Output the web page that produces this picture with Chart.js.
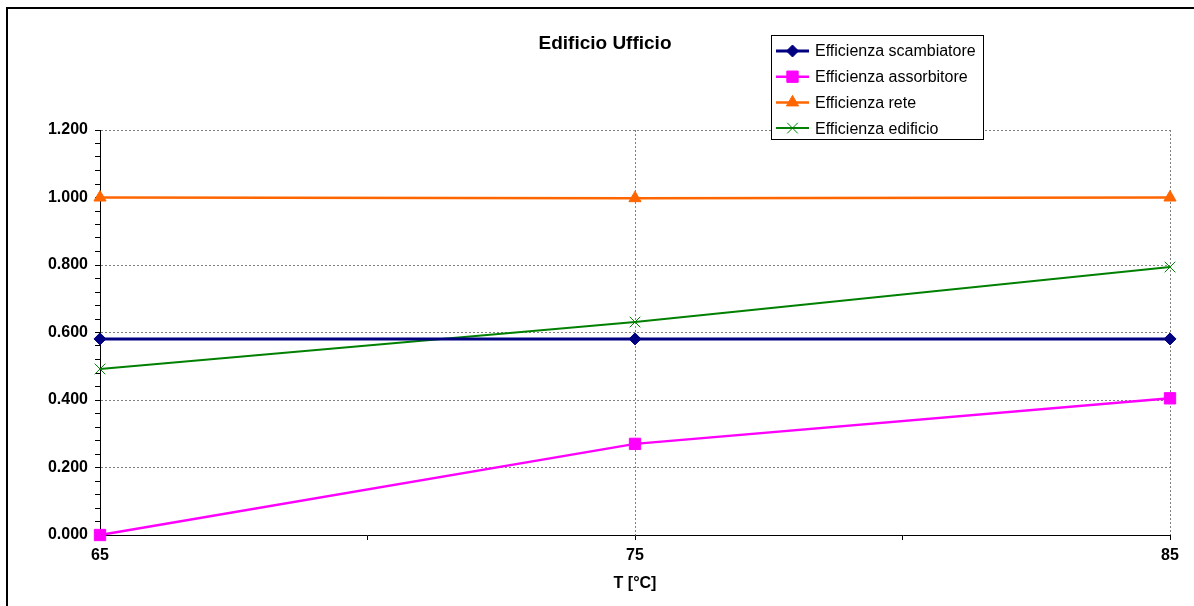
<!DOCTYPE html>
<html>
<head>
<meta charset="utf-8">
<script src="https://cdn.jsdelivr.net/npm/chart.js@4/dist/chart.umd.min.js"></script>
<style>
  html, body { margin: 0; padding: 0; background: #fff; }
  canvas { display: block; }
</style>
</head>
<body>
<canvas id="myChart" width="1194" height="606"></canvas>
<script>
// temperature (°C)
var temperature = [65, 75, 85];

// efficiency series
var effScambiatore = [0.581, 0.581, 0.581];
var effAssorbitore = [0.0, 0.27, 0.405];
var effRete = [1.0, 0.998, 1.0];
var effEdificio = [0.492, 0.631, 0.794];

var chartTitle = 'Edificio Ufficio';
var xTitle = 'T [°C]';

var FONT = '"Liberation Sans", Arial, sans-serif';

function points(values) {
    return temperature.map(function (t, i) { return {x: t, y: values[i]}; });
}

function series(label, values, color, style, radius, width) {
    return {
        label: label,
        data: points(values),
        borderColor: color,
        backgroundColor: color,
        borderWidth: width,
        pointStyle: style,
        pointRadius: radius,
        pointHoverRadius: radius,
        pointBorderWidth: 1,
        pointBackgroundColor: color,
        pointBorderColor: color,
        tension: 0,
        clip: false
    };
}

// frame, title and Excel-like legend box
var decorations = {
    id: 'decorations',
    beforeDraw: function (chart) {
        var c = chart.ctx;
        c.save();
        c.fillStyle = '#fff';
        c.fillRect(0, 0, chart.width, chart.height);
        c.strokeStyle = '#000';
        c.lineWidth = 2;
        c.beginPath();
        c.moveTo(7, chart.height);
        c.lineTo(7, 8);
        c.lineTo(chart.width, 8);
        c.stroke();
        c.restore();
    },
    afterDraw: function (chart) {
        var c = chart.ctx;
        c.save();
        c.fillStyle = '#000';
        c.font = 'bold 19px ' + FONT;
        c.textAlign = 'center';
        c.textBaseline = 'middle';
        c.fillText(chartTitle, 605, 44);

        // legend
        var bx = 771.5, by = 35.5, bw = 212, bh = 104;
        c.fillStyle = '#fff';
        c.fillRect(bx, by, bw, bh);
        c.strokeStyle = '#000';
        c.lineWidth = 1;
        c.strokeRect(bx, by, bw, bh);
        c.font = '16px ' + FONT;
        c.textAlign = 'left';
        chart.data.datasets.forEach(function (ds, i) {
            var y = 51 + i * 25.7;
            c.strokeStyle = ds.borderColor;
            c.lineWidth = ds.borderWidth;
            c.beginPath();
            c.moveTo(776, y);
            c.lineTo(809, y);
            c.stroke();
            c.fillStyle = ds.pointBackgroundColor;
            c.strokeStyle = ds.pointBorderColor;
            c.lineWidth = 1;
            Chart.helpers.drawPoint(c, {
                pointStyle: ds.pointStyle,
                radius: ds.pointRadius,
                rotation: 0,
                borderWidth: 1
            }, 792.5, y);
            c.fillStyle = '#000';
            c.fillText(ds.label, 815, y + 1);
        });
        c.restore();
    }
};

var gridGray = '#808080';

var ctx = document.getElementById('myChart').getContext('2d');
var chart = new Chart(ctx, {
    type: 'line',
    data: {
        datasets: [
            series('Efficienza scambiatore', effScambiatore, '#000080', 'rectRot', 6, 3),
            series('Efficienza assorbitore', effAssorbitore, '#FF00FF', 'rect', 8, 2.5),
            series('Efficienza rete', effRete, '#FF6600', 'triangle', 7, 2.5),
            series('Efficienza edificio', effEdificio, '#008000', 'crossRot', 7.5, 2)
        ]
    },
    options: {
        responsive: false,
        animation: false,
        events: [],
        layout: {
            padding: {left: 10, right: 24, top: 130, bottom: 0}
        },
        plugins: {
            legend: {display: false},
            title: {display: false},
            tooltip: {enabled: false}
        },
        scales: {
            x: {
                type: 'linear',
                min: 65,
                max: 85,
                afterFit: function (s) { s.height = 71; },
                border: {display: true, color: '#000', width: 1, dash: [2, 2]},
                grid: {
                    color: function (c) {
                        var v = c.tick ? c.tick.value : 0;
                        return (v === 75 || v === 85) ? gridGray : 'rgba(0,0,0,0)';
                    },
                    tickColor: '#000',
                    tickLength: 5,
                    tickBorderDash: [],
                    lineWidth: 1
                },
                ticks: {
                    stepSize: 5,
                    autoSkip: false,
                    maxRotation: 0,
                    padding: 6,
                    color: '#000',
                    font: {family: FONT, size: 16, weight: 'bold'},
                    callback: function (v) { return (v % 10 === 5) ? String(v) : ''; }
                },
                title: {
                    display: true,
                    text: xTitle,
                    color: '#000',
                    font: {family: FONT, size: 16, weight: 'bold'},
                    padding: {top: 0, bottom: 13}
                }
            },
            y: {
                min: 0,
                max: 1.2,
                afterFit: function (s) { s.width = 90; },
                border: {display: true, color: '#000', width: 1, dash: [2, 2]},
                grid: {
                    color: function (c) {
                        var v = c.tick ? Math.round(c.tick.value * 100) : 0;
                        return (v > 0 && v % 20 === 0) ? gridGray : 'rgba(0,0,0,0)';
                    },
                    tickColor: '#000',
                    tickLength: 5,
                    tickBorderDash: [],
                    lineWidth: 1
                },
                ticks: {
                    stepSize: 0.04,
                    autoSkip: false,
                    padding: 7,
                    color: '#000',
                    font: {family: FONT, size: 16, weight: 'bold'},
                    callback: function (v) {
                        return (Math.round(v * 100) % 20 === 0) ? v.toFixed(3) : '';
                    }
                }
            }
        }
    },
    plugins: [decorations]
});
</script>
</body>
</html>
